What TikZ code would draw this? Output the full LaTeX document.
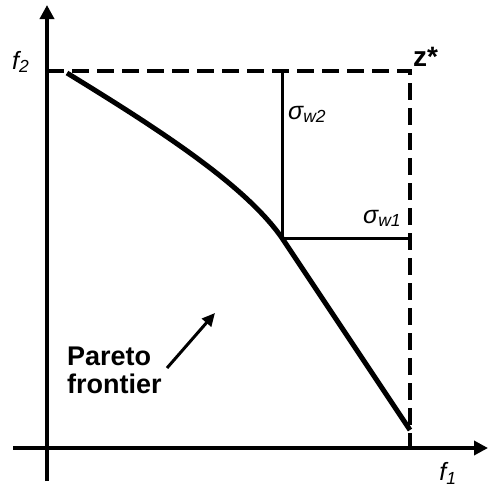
\documentclass[tikz,border=0pt]{standalone}
\usepackage{fontspec}
\setmainfont{Liberation Sans}
\usetikzlibrary{arrows.meta,positioning}

\begin{document}
\begin{tikzpicture}[
    x=1pt, y=-1pt,
    every node/.style={font=\fontsize{25}{27}\selectfont\itshape, inner sep=0pt},
    axisline/.style={line width=4.5pt, -{Triangle[length=14pt, width=14pt]}},
    bound/.style={line width=4pt, dash pattern=on 17pt off 8pt},
    front/.style={line width=5pt},
    devline/.style={line width=3pt},
    tag/.style={font=\fontsize{27}{28}\selectfont\bfseries, align=left},
    pointer/.style={line width=3pt, -{Triangle[length=13pt, width=12pt]}}
]
\useasboundingbox (0,0) rectangle (488,493);

% axes
\coordinate (ybot) at (47,481);
\coordinate (ytop) at (47,5);
\coordinate (xleft) at (13,448);
\coordinate (xright) at (488,448);
\draw[axisline] (ybot) -- (ytop);
\draw[axisline] (xleft) -- (xright);

% ideal point box
\coordinate (zleft) at (47,71);
\coordinate (z) at (410,71);
\coordinate (zbot) at (410,448);
\draw[bound] (zleft) -- (z) -- (zbot);

% front
\coordinate (fa) at (67,73);
\coordinate (knee) at (282,238);
\coordinate (fb) at (410,430);
\draw[front] (fa) .. controls (160,130) and (245,185) .. (knee)
    .. controls (320,295) and (370,370) .. (fb);

% deviations
\coordinate (kup) at (282,71);
\coordinate (kright) at (410,238);
\draw[devline] (kup) -- (knee) -- (kright);

% labels
\node[anchor=west] (f2) at (12,62) {f\textsubscript{2}};
\node[anchor=north] (f1) at (448,462) {f\textsubscript{1}};
\node[anchor=base west, font=\fontsize{28}{30}\selectfont\bfseries] (zs) at (413,66) {z*};
\node[anchor=base west] (sw2) at (288,119) {σ\textsubscript{w2}};
\node[anchor=base west] (sw1) at (363,223) {σ\textsubscript{w1}};

\node[tag, anchor=north west] (pf) at (67,347) {Pareto\\frontier};
\coordinate (ptail) at (167,368);
\coordinate (phead) at (215,313);
\draw[pointer] (ptail) -- (phead);
\end{tikzpicture}
\end{document}
